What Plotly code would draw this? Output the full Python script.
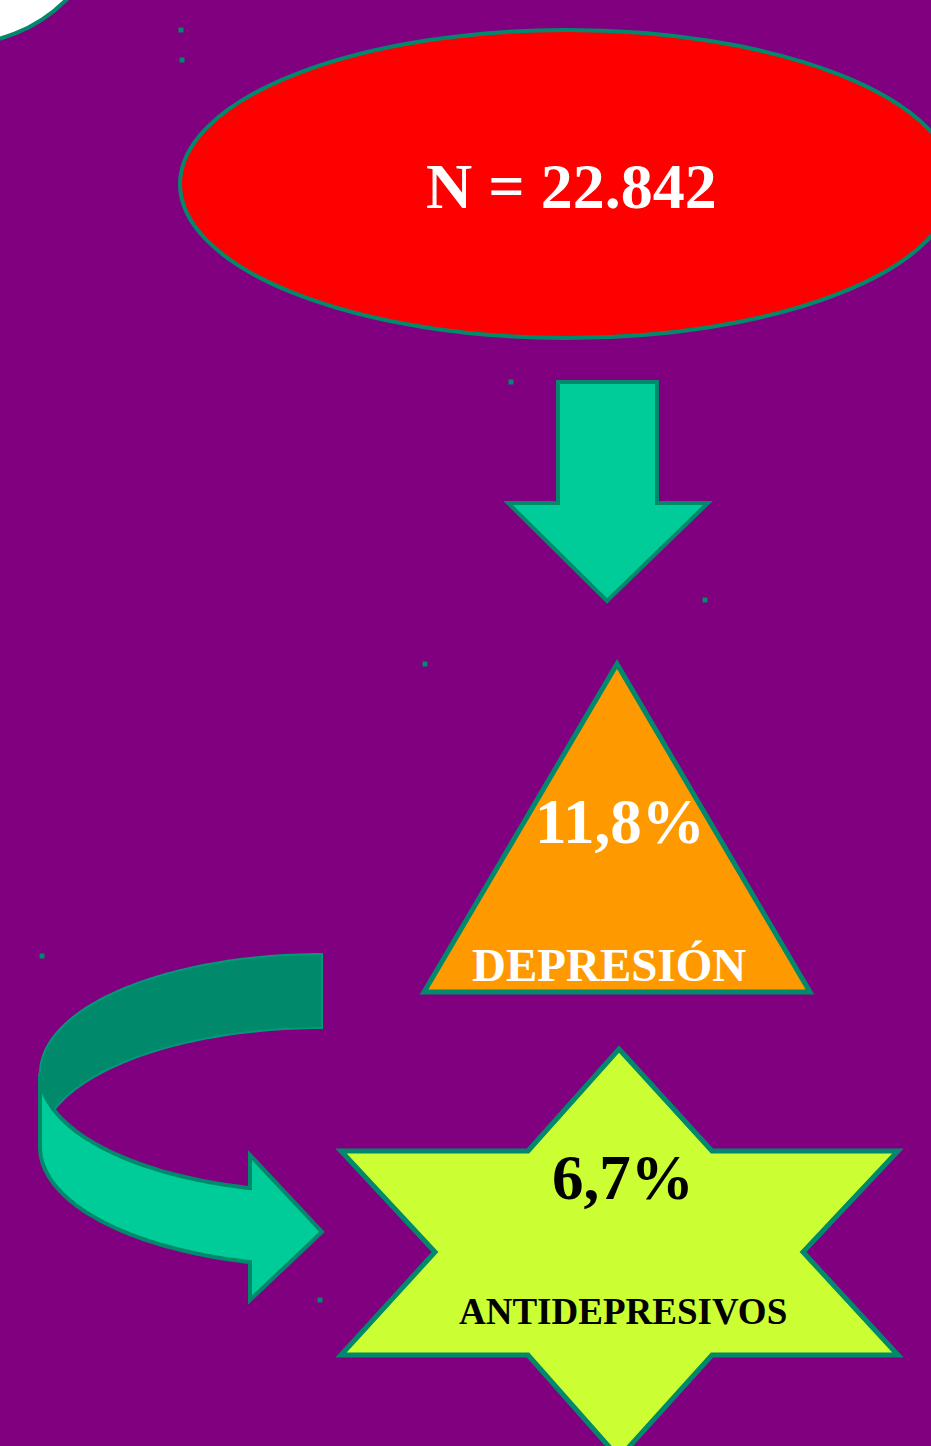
import numpy as np
import plotly.graph_objects as go

# ---- content ----
total_label = ["N = 22.842"]
depresion_value = ["11,8%"]
depresion_label = ["DEPRESIÓN"]
antidep_value = ["6,7%"]
antidep_label = ["ANTIDEPRESIVOS"]

# ---- palette ----
PURPLE = "#800080"
TEAL = "#00896b"
MINT = "#00cc99"
DARK_BAND = "#008a6b"
RED = "#ff0000"
ORANGE = "#ff9900"
LIME = "#ccff33"
FONT = "Liberation Serif, Times New Roman, serif"

W, H = 931, 1446


def poly(pts):
    return "M " + " L ".join(f"{x:.1f},{y:.1f}" for x, y in pts) + " Z"


shapes = []

# white ellipse (top-left corner)
shapes.append(dict(type="circle", xref="x", yref="y", x0=-190, x1=110, y0=-256, y1=44,
                   fillcolor="white", line=dict(color=TEAL, width=4)))

# red ellipse
shapes.append(dict(type="circle", xref="x", yref="y", x0=180, x1=954, y0=30, y1=338,
                   fillcolor=RED, line=dict(color=TEAL, width=4)))

# down arrow
down_arrow = [(558, 382), (657, 382), (657, 503), (708, 503), (607, 601), (508, 503), (558, 503)]
shapes.append(dict(type="path", xref="x", yref="y", path=poly(down_arrow),
                   fillcolor=MINT, line=dict(color=TEAL, width=4)))

# triangle
triangle = [(617, 664), (810, 992), (424, 992)]
shapes.append(dict(type="path", xref="x", yref="y", path=poly(triangle),
                   fillcolor=ORANGE, line=dict(color=TEAL, width=5)))

# six-pointed star
star = [(619, 1049), (712, 1151), (898, 1151), (803, 1252), (898, 1355), (712, 1355),
        (619, 1458), (528, 1355), (341, 1355), (435, 1252), (341, 1151), (528, 1151)]
shapes.append(dict(type="path", xref="x", yref="y", path=poly(star),
                   fillcolor=LIME, line=dict(color=TEAL, width=5)))

# curved ribbon arrow
cx, cy, rx, ry, hh = 322, 1073, 282, 119, 74
t_back = np.radians(np.linspace(-90, -180, 60))
back_top = [(cx + rx * np.cos(t), cy + ry * np.sin(t)) for t in t_back]
back_bot = [(x, y + hh) for x, y in back_top[::-1]]
shapes.append(dict(type="path", xref="x", yref="y", path=poly(back_top + back_bot),
                   fillcolor=DARK_BAND, line=dict(color="#009a77", width=2)))

x_base = 250
t_end = np.degrees(np.arccos((x_base - cx) / rx))
t_front = np.radians(np.linspace(180, t_end, 60))
front_top = [(cx + rx * np.cos(t), cy + ry * np.sin(t)) for t in t_front]
front_bot = [(x, y + hh) for x, y in front_top[::-1]]
head = [(x_base, 1155), (322, 1232), (x_base, 1300)]
shapes.append(dict(type="path", xref="x", yref="y", path=poly(front_top + head + front_bot),
                   fillcolor=MINT, line=dict(color=TEAL, width=4)))

fig = go.Figure()

# tiny decorative dots
dots_x = [181, 182, 511, 705, 425, 42, 320]
dots_y = [30, 60, 382, 600, 664, 956, 1300]
fig.add_trace(go.Scatter(x=dots_x, y=dots_y, mode="markers",
                         marker=dict(symbol="square", size=5, color=TEAL),
                         hoverinfo="skip", showlegend=False))

annotations = [
    dict(x=571, y=186, text=f"<b>{total_label[0]}</b>", font=dict(family=FONT, size=64, color="white")),
    dict(x=620, y=822, text=f"<b>{depresion_value[0]}</b>", font=dict(family=FONT, size=63, color="white")),
    dict(x=609, y=965, text=f"<b>{depresion_label[0]}</b>", font=dict(family=FONT, size=47, color="white")),
    dict(x=623, y=1178, text=f"<b>{antidep_value[0]}</b>", font=dict(family=FONT, size=63, color="black")),
    dict(x=623, y=1311, text=f"<b>{antidep_label[0]}</b>", font=dict(family=FONT, size=37, color="black")),
]
for a in annotations:
    a.update(xref="x", yref="y", showarrow=False, xanchor="center", yanchor="middle")

fig.update_layout(
    width=W, height=H,
    margin=dict(l=0, r=0, t=0, b=0),
    paper_bgcolor=PURPLE, plot_bgcolor=PURPLE,
    shapes=shapes, annotations=annotations,
    xaxis=dict(range=[0, W], visible=False, fixedrange=True),
    yaxis=dict(range=[H, 0], visible=False, fixedrange=True),
    showlegend=False,
)

fig.write_html("out.html", config={"displayModeBar": False},
               post_script="document.body.style.margin='0';document.body.style.overflow='hidden';")
